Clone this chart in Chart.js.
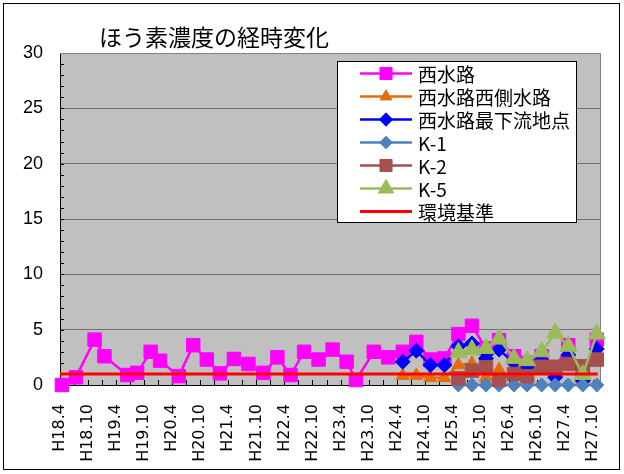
<!DOCTYPE html>
<html lang="ja">
<head>
<meta charset="utf-8">
<title>ほう素濃度の経時変化</title>
<script src="https://cdn.jsdelivr.net/npm/chart.js@4.4.1/dist/chart.umd.min.js"></script>
<style>
  html, body { margin: 0; padding: 0; background: #fff; }
  #wrap { position: relative; width: 624px; height: 474px; overflow: hidden; }
  #frame { position: absolute; left: 3px; top: 3px; width: 617px; height: 467px; border: 1px solid #000; box-sizing: border-box; pointer-events: none; }
  #title { position: absolute; left: 99px; top: 21px; font-family: "Noto Sans CJK JP"; font-size: 23px; line-height: 30px; color: #000; white-space: nowrap; }
  #legend { position: absolute; left: 337px; top: 61px; width: 240px; height: 162px; box-sizing: border-box; border: 1px solid #000; background: #fff; padding-top: 0; }
  .row { height: 23px; display: flex; align-items: center; }
  .row canvas { margin-left: 20px; }
  .row span { margin-left: 4px; font-family: "Noto Sans CJK JP"; font-size: 19px; line-height: 23px; color: #000; white-space: nowrap; }
</style>
</head>
<body>
<div id="wrap">
  <canvas id="chart" width="624" height="474"></canvas>
  <div id="title">ほう素濃度の経時変化</div>
  <div id="legend"></div>
  <div id="frame"></div>
</div>
<script>
// 横軸の値は H18.4 からの経過月数
const tickLabels = ['H18.4', 'H18.10', 'H19.4', 'H19.10', 'H20.4', 'H20.10', 'H21.4', 'H21.10', 'H22.4', 'H22.10',
                    'H23.4', 'H23.10', 'H24.4', 'H24.10', 'H25.4', 'H25.10', 'H26.4', 'H26.10', 'H27.4', 'H27.10'];
const tickMonths = [0, 6, 12, 18, 24, 30, 36, 42, 48, 54, 60, 66, 72, 78, 84, 90, 96, 102, 108, 114];

// 西水路
const datesNishi = [0.4, 3.4, 7.4, 9.5, 14.4, 16.5, 19.4, 21.4, 25.4, 28.5, 31.4, 34.2, 37.2, 40.3, 43.5, 46.5,
                    49.3, 52.2, 55.3, 58.3, 61.3, 63.3, 67.1, 70.2, 73.3, 76.2, 79.2, 82.2, 85.2, 88.1, 91.1,
                    93.9, 97.1, 99.9, 103.0, 105.9, 108.7, 111.8, 114.8];
const nishiSuiro = [0, 0.7, 4.1, 2.6, 0.9, 1.1, 3.0, 2.2, 0.8, 3.6, 2.3, 1.05, 2.35, 1.9, 1.1, 2.5,
                    0.9, 3.0, 2.3, 3.2, 2.1, 0.45, 3.0, 2.5, 3.0, 3.9, 2.3, 2.4, 4.6, 5.35, 3.3,
                    4.05, 2.6, 2.0, 2.6, 1.5, 3.6, 0.8, 4.1];

// H24.4 以降の調査日
const datesLate = [73.3, 76.2, 79.2, 82.2, 85.2, 88.1, 91.1, 93.9, 97.1, 99.9, 103.0, 105.9, 108.7, 111.8, 114.8];
const nishigawa = [0.85, 0.85, 0.65, 0.65, 1.8, 1.95, 0.7, 1.4];
const saikaryu = [2.1, 3.1, 1.8, 1.8, 3.5, 3.75, 2.4, 3.2, 2.0, 1.65, 2.25, 0.7, 2.7, 0.4, 3.25];

// K地点 (H25.4 以降)
const datesK = [85.2, 88.1, 91.1, 93.9, 97.1, 99.9, 103.0, 105.9, 108.7, 111.8, 114.8];
const k1 = [0, 0, 0, 0, 0, 0, 0, 0, 0, 0, 0];
const k2 = [0.6, 1.3, 1.6, 0.45, 1.0, 0.8, 1.65, 1.65, 1.9, 1.7, 2.3];
const k5 = [2.95, 3.2, 3.3, 4.15, 2.4, 2.2, 3.0, 4.7, 3.5, 0.95, 4.6];

// 環境基準
const stdDates = [0, 115];
const stdValues = [1, 1];

function pts(xs, ys) {
    return ys.map((v, i) => ({ x: xs[i], y: v }));
}

const series = [
    { label: '西水路', data: pts(datesNishi, nishiSuiro), color: '#FF00FF', style: 'rect', r: 9.5 },
    { label: '西水路西側水路', data: pts(datesLate, nishigawa), color: '#E46C0A', style: 'triangle', r: 7.5 },
    { label: '西水路最下流地点', data: pts(datesLate, saikaryu), color: '#0000FF', style: 'rectRot', r: 7.5 },
    { label: 'K-1', data: pts(datesK, k1), color: '#4F81BD', style: 'rectRot', r: 7 },
    { label: 'K-2', data: pts(datesK, k2), color: '#A5504D', style: 'rect', r: 9.5 },
    { label: 'K-5', data: pts(datesK, k5), color: '#9BBB59', style: 'triangle', r: 10 },
    { label: '環境基準', data: pts(stdDates, stdValues), color: '#FF0000', style: null, r: 0 }
];

const datasets = series.map((s, i) => ({
    label: s.label,
    data: s.data,
    borderColor: s.color,
    backgroundColor: s.color,
    borderWidth: s.style ? 2.5 : 3,
    pointStyle: s.style || 'circle',
    pointRadius: s.r,
    pointBorderWidth: 1,
    pointBorderColor: s.color,
    pointBackgroundColor: s.color,
    tension: 0,
    clip: false,
    order: series.length - i   // 後の系列を上に重ねる
}));

// プロットエリアの背景と内向きの目盛
const plotArea = {
    id: 'plotArea',
    beforeDraw(chart) {
        const { ctx, chartArea: a } = chart;
        ctx.save();
        ctx.fillStyle = '#C0C0C0';
        ctx.fillRect(a.left, a.top, a.right - a.left, a.bottom - a.top);
        ctx.restore();
    },
    beforeDatasetsDraw(chart) {
        const { ctx, chartArea: a, scales: { x, y } } = chart;
        ctx.save();
        ctx.strokeStyle = '#808080';
        ctx.lineWidth = 1;
        ctx.beginPath();
        ctx.moveTo(a.left, a.top + 0.5);
        ctx.lineTo(a.right - 0.5, a.top + 0.5);
        ctx.lineTo(a.right - 0.5, a.bottom);
        ctx.stroke();
        ctx.strokeStyle = '#000';
        ctx.beginPath();
        for (let v = 1; v < 30; v++) {
            const py = Math.round(y.getPixelForValue(v)) + 0.5;
            ctx.moveTo(a.left, py);
            ctx.lineTo(a.left + 4, py);
        }
        for (let m = 0; m <= 114; m += 3) {
            const px = Math.round(x.getPixelForValue(m)) + 0.5;
            ctx.moveTo(px, a.bottom);
            ctx.lineTo(px, a.bottom - 5);
        }
        ctx.stroke();
        ctx.restore();
    }
};

new Chart(document.getElementById('chart'), {
    type: 'line',
    data: { datasets: datasets },
    options: {
        responsive: false,
        animation: false,
        devicePixelRatio: 1,
        layout: { padding: { left: 4, top: 53, right: 23, bottom: 0 } },
        plugins: {
            legend: { display: false },
            tooltip: { enabled: false }
        },
        scales: {
            x: {
                type: 'linear',
                min: 0,
                max: 115.7,
                afterBuildTicks: (scale) => { scale.ticks = tickMonths.map(v => ({ value: v })); },
                afterFit: (scale) => { scale.height = 89; },
                grid: { display: false },
                border: { display: true, color: '#000', width: 1 },
                ticks: {
                    autoSkip: false,
                    maxRotation: 90,
                    minRotation: 90,
                    padding: 11,
                    color: '#000',
                    font: { family: 'DejaVu Sans', size: 16 },
                    callback: (v, i) => tickLabels[i]
                }
            },
            y: {
                min: 0,
                max: 30,
                afterFit: (scale) => { scale.width = 56; },
                grid: {
                    drawTicks: false,
                    color: (c) => (c.tick.value === 0 || c.tick.value === 30) ? 'rgba(0,0,0,0)' : '#707070'
                },
                border: { display: true, color: '#000', width: 1 },
                ticks: {
                    stepSize: 5,
                    padding: 17,
                    color: '#000',
                    font: { family: 'Liberation Sans', size: 18 }
                }
            }
        }
    },
    plugins: [plotArea]
});

// 凡例 (線とマーカー)
function drawMarker(ctx, style, r, x, y) {
    ctx.beginPath();
    if (style === 'rect') {
        const s = r * Math.SQRT1_2;
        ctx.rect(x - s, y - s, 2 * s, 2 * s);
    } else if (style === 'rectRot') {
        ctx.moveTo(x, y - r); ctx.lineTo(x + r, y); ctx.lineTo(x, y + r); ctx.lineTo(x - r, y);
        ctx.closePath();
    } else if (style === 'triangle') {
        ctx.moveTo(x, y - r); ctx.lineTo(x + r * 0.866, y + r / 2); ctx.lineTo(x - r * 0.866, y + r / 2);
        ctx.closePath();
    }
    ctx.fill();
    ctx.stroke();
}

const legendBox = document.getElementById('legend');
series.forEach(s => {
    const row = document.createElement('div');
    row.className = 'row';
    const c = document.createElement('canvas');
    c.width = 56; c.height = 23;
    const ctx = c.getContext('2d');
    ctx.strokeStyle = s.color;
    ctx.fillStyle = s.color;
    ctx.lineWidth = s.style ? 2.5 : 3;
    ctx.beginPath();
    ctx.moveTo(2, 11.5); ctx.lineTo(54, 11.5);
    ctx.stroke();
    if (s.style) {
        ctx.lineWidth = 1;
        drawMarker(ctx, s.style, s.r * 0.9, 28, 11.5);
    }
    const t = document.createElement('span');
    t.textContent = s.label;
    row.appendChild(c);
    row.appendChild(t);
    legendBox.appendChild(row);
});
</script>
</body>
</html>
